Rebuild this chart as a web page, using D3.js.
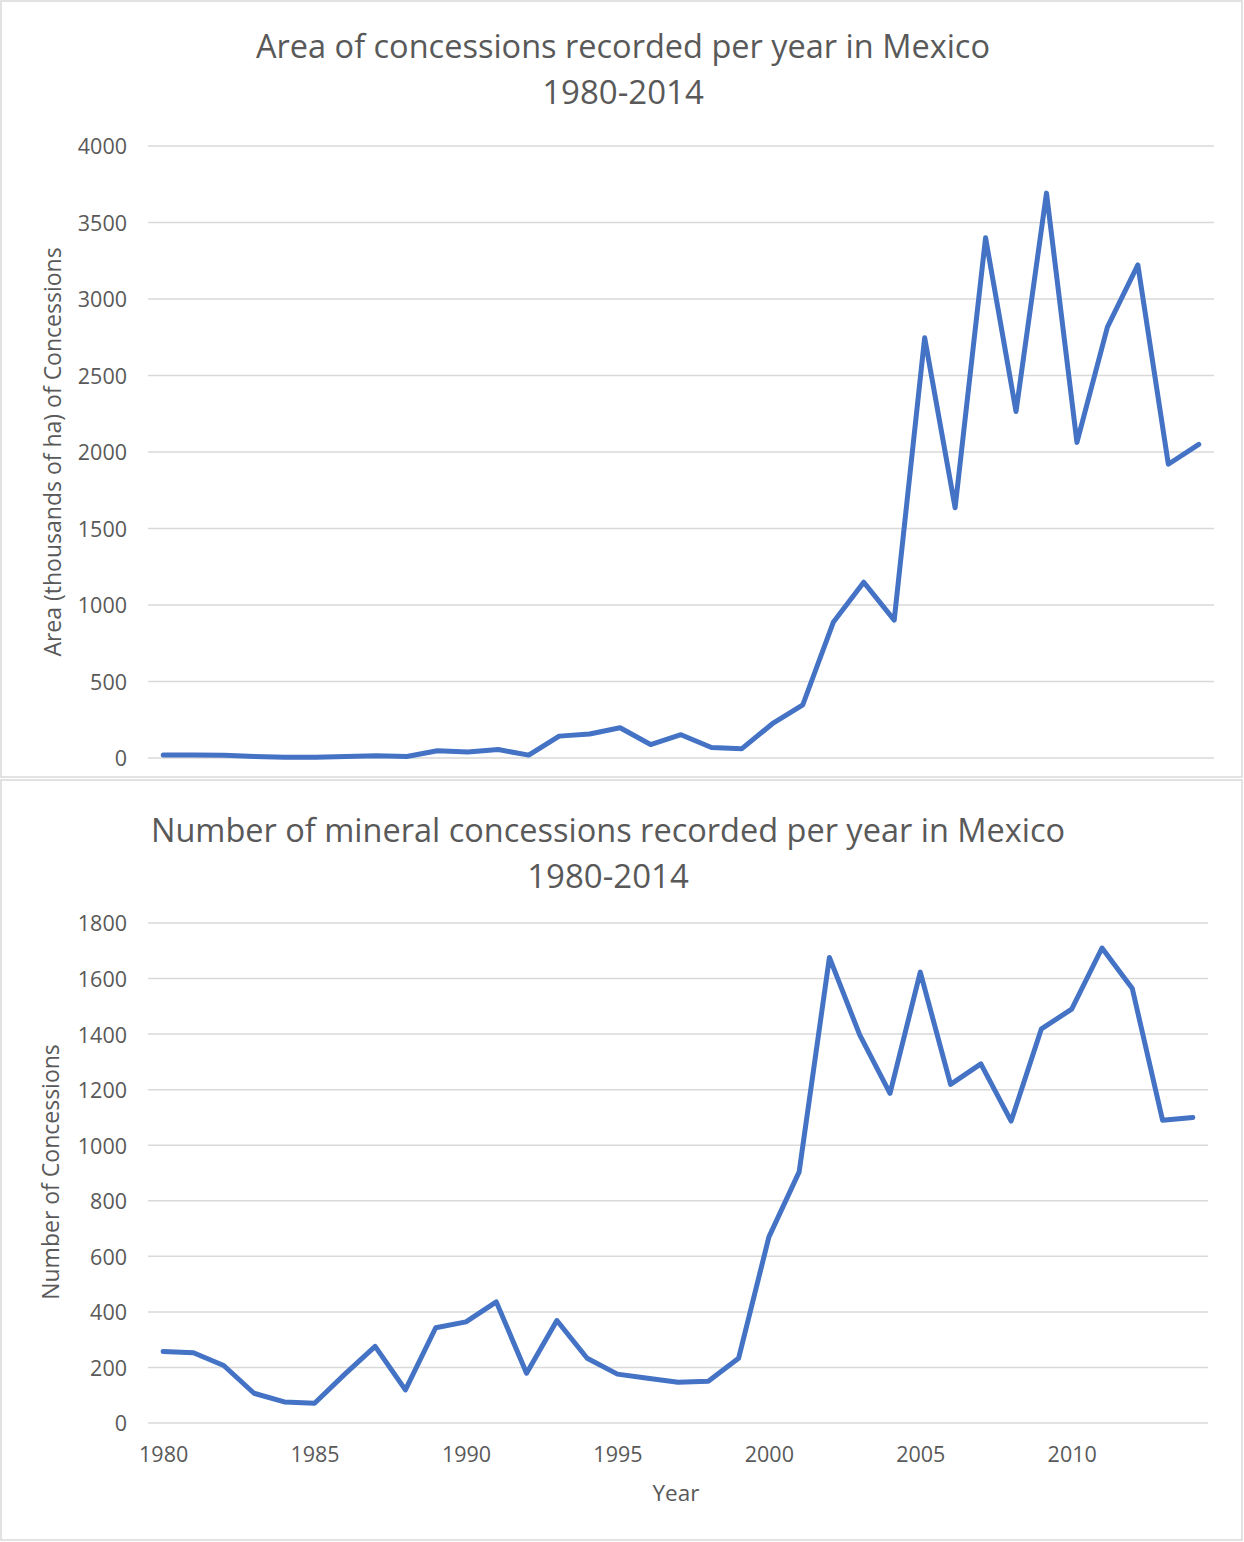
<!DOCTYPE html>
<html>
<head>
<meta charset="utf-8">
<script src="https://cdn.jsdelivr.net/npm/d3@7"></script>
<style>
  html, body { margin: 0; padding: 0; background: #fff; }
  svg { display: block; }
  text { font-family: 'Open Sans', sans-serif; fill: #595959; }
</style>
</head>
<body>
<svg id="chart" width="1244" height="1542"></svg>
<script>
'use strict';

/* ── data ────────────────────────────────── */
const years = d3.range(1980, 2015);
const yearLabels = ['1980', '1985', '1990', '1995', '2000', '2005', '2010'];

// area of concessions, thousands of ha
const areaValues = [
  20, 20, 18, 10, 5, 5, 10, 15, 10, 47,
  39, 55, 19, 143, 157, 198, 88, 152, 69, 61,
  224, 348, 887, 1149, 901, 2747, 1636, 3400, 2265, 3692,
  2063, 2816, 3223, 1920, 2050
];
const areaTicks = [0, 500, 1000, 1500, 2000, 2500, 3000, 3500, 4000];

// number of concessions
const countValues = [
  257, 253, 207, 107, 76, 71, 176, 276, 119, 343,
  364, 436, 179, 369, 233, 176, 161, 147, 150, 233,
  669, 904, 1676, 1397, 1187, 1623, 1219, 1293, 1087, 1419,
  1490, 1710, 1564, 1090, 1100
];
const countTicks = [0, 200, 400, 600, 800, 1000, 1200, 1400, 1600, 1800];

/* ── setup ───────────────────────────────── */
const svg = d3.select('#chart');
const BLUE = '#4472C4';
const GRID = '#d9d9d9';
const FONT = "'Open Sans', sans-serif";

function drawPanel(cfg) {
  const g = svg.append('g');

  // frame
  g.append('rect')
    .attr('x', cfg.box[0]).attr('y', cfg.box[1])
    .attr('width', cfg.box[2]).attr('height', cfg.box[3])
    .attr('fill', '#fff').attr('stroke', GRID).attr('stroke-width', 1.5);

  // titles
  cfg.title.forEach((t, i) => {
    g.append('text')
      .attr('x', cfg.titleX).attr('y', cfg.titleY + i * 46)
      .attr('text-anchor', 'middle').attr('dominant-baseline', 'middle')
      .attr('font-size', i === 0 ? 32.5 : 33).text(t);
  });

  const x = d3.scalePoint().domain(years).range([cfg.left, cfg.right]).padding(0.5);
  const y = d3.scaleLinear().domain([0, cfg.max]).range([cfg.bottom, cfg.top]);

  // gridlines
  g.append('g').selectAll('line').data(cfg.ticks).join('line')
    .attr('x1', cfg.left).attr('x2', cfg.right)
    .attr('y1', d => y(d)).attr('y2', d => y(d))
    .attr('stroke', GRID).attr('stroke-width', 1.5);

  // y axis labels
  const yAxis = g.append('g')
    .attr('transform', `translate(${cfg.left - 21},1)`)
    .call(d3.axisLeft(y).tickValues(cfg.ticks).tickFormat(d3.format('d')).tickSize(0).tickPadding(0));
  yAxis.select('.domain').remove();
  yAxis.selectAll('text')
    .attr('font-size', 21.5).attr('fill', '#595959')
    .style('font-family', FONT);

  // y axis title
  g.append('text')
    .attr('transform', `translate(${cfg.yTitleX},${cfg.yTitleY}) rotate(-90)`)
    .attr('text-anchor', 'middle').attr('dominant-baseline', 'middle')
    .attr('font-size', 23).text(cfg.yTitle);

  // x axis labels
  if (cfg.xLabels) {
    const xAxis = g.append('g')
      .attr('transform', `translate(0,${cfg.bottom + 24})`)
      .call(d3.axisBottom(x).tickValues(yearLabels.map(Number)).tickSize(0).tickPadding(0));
    xAxis.select('.domain').remove();
    xAxis.selectAll('text')
      .attr('font-size', 21.5).attr('fill', '#595959')
      .attr('dy', '0.71em')
      .style('font-family', FONT);

    g.append('text')
      .attr('x', cfg.xTitleX).attr('y', cfg.xTitleY)
      .attr('text-anchor', 'middle').attr('dominant-baseline', 'middle')
      .attr('font-size', 22.5).text('Year');
  }

  // line
  const line = d3.line().x((d, i) => x(years[i])).y(d => y(d));
  g.append('path')
    .datum(cfg.values)
    .attr('d', line)
    .attr('fill', 'none')
    .attr('stroke', BLUE)
    .attr('stroke-width', 5)
    .attr('stroke-linejoin', 'round')
    .attr('stroke-linecap', 'round');
}

drawPanel({
  box: [1, 1, 1241, 776],
  title: ['Area of concessions recorded per year in Mexico', '1980-2014'],
  titleX: 623, titleY: 49,
  left: 148, right: 1214, top: 146, bottom: 758,
  max: 4000, ticks: areaTicks, values: areaValues,
  yTitle: 'Area (thousands of ha) of Concessions', yTitleX: 55, yTitleY: 452,
  xLabels: false
});

drawPanel({
  box: [1, 780, 1241, 760],
  title: ['Number of mineral concessions recorded per year in Mexico', '1980-2014'],
  titleX: 608, titleY: 833,
  left: 148, right: 1208, top: 923, bottom: 1423,
  max: 1800, ticks: countTicks, values: countValues,
  yTitle: 'Number of Concessions', yTitleX: 53, yTitleY: 1172,
  xLabels: true, xTitleX: 676, xTitleY: 1495
});
</script>
</body>
</html>
